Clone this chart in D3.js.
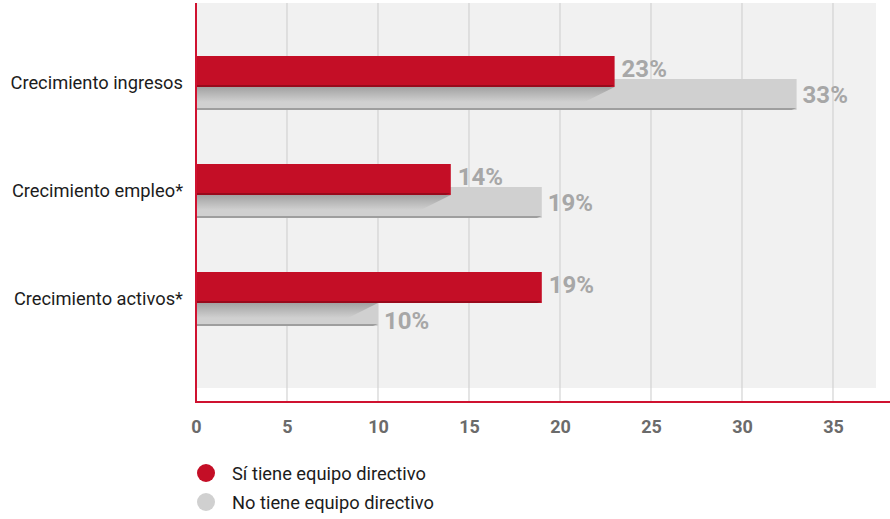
<!DOCTYPE html>
<html>
<head>
<meta charset="utf-8">
<script src="https://cdn.jsdelivr.net/npm/d3@7"></script>
<style>
  html, body { margin: 0; padding: 0; background: #ffffff; }
  svg { display: block; font-family: Roboto, "Noto Sans", sans-serif; }
</style>
</head>
<body>
<svg id="chart" width="890" height="519"></svg>
<script>
// Growth metrics, companies with and without a management team (%)
const categories = ["Crecimiento ingresos", "Crecimiento empleo*", "Crecimiento activos*"];
const conEquipo = [23, 14, 19];
const sinEquipo = [33, 19, 10];
const xTicks = [0, 5, 10, 15, 20, 25, 30, 35];
const seriesNames = ["Sí tiene equipo directivo", "No tiene equipo directivo"];

const RED = "#c40e26", RED_DARK = "#980a1c";
const GREY = "#d0d0d0", GREY_DARK = "#9e9e9e";
const LABEL = "#a7a7a7";

const svg = d3.select("#chart");
const plot = { left: 196, top: 3, bgRight: 876, bgBottom: 388, axisY: 402 };

const x = d3.scaleLinear().domain([0, 35]).range([196, 833]);
const y = d3.scaleBand().domain(categories).range([29, 353]).padding(0);

const barH = 31;           // height of each bar
const greyOffset = 23;     // grey bar starts this far below the red one

// gradient for the shadow that the red bar casts on the grey one
const defs = svg.append("defs");
const g1 = defs.append("linearGradient").attr("id", "shade")
  .attr("x1", 0).attr("y1", 0).attr("x2", 0).attr("y2", 1);
g1.append("stop").attr("offset", "0%").attr("stop-color", "#a2a2a2");
g1.append("stop").attr("offset", "100%").attr("stop-color", GREY);

// plot background
svg.append("rect")
  .attr("x", plot.left).attr("y", plot.top)
  .attr("width", plot.bgRight - plot.left).attr("height", plot.bgBottom - plot.top)
  .attr("fill", "#f1f1f1");

// vertical grid lines
svg.append("g").selectAll("line")
  .data(xTicks.filter(d => d > 0))
  .join("line")
  .attr("x1", d => x(d)).attr("x2", d => x(d))
  .attr("y1", plot.top).attr("y2", plot.axisY)
  .attr("stroke", "#d3d3d3").attr("stroke-width", 1.2);

const rows = categories.map((c, i) => ({ cat: c, a: conEquipo[i], b: sinEquipo[i], i }));

const groups = svg.append("g").selectAll("g")
  .data(rows).join("g");

groups.each(function (d) {
  const g = d3.select(this);
  const mid = y(d.cat) + y.bandwidth() / 2;
  const redTop = mid - 27;
  const redBot = redTop + barH;
  const greyTop = redTop + greyOffset;
  const greyBot = greyTop + barH;
  const x0 = x(0), xa = x(d.a), xb = x(d.b);

  // grey bar body
  g.append("rect")
    .attr("x", x0).attr("y", greyTop)
    .attr("width", xb - x0).attr("height", barH)
    .attr("fill", GREY);
  // grey bar bottom edge
  g.append("polygon")
    .attr("points", [[x0, greyBot - 2], [xb, greyBot - 2], [xb - 5, greyBot], [x0, greyBot]].join(" "))
    .attr("fill", GREY_DARK);

  // shadow of the red bar on the grey bar
  const sEnd = Math.min(xa, xb);
  const sH = 15;
  g.append("polygon")
    .attr("points", [[x0, redBot], [sEnd, redBot], [sEnd - 30, redBot + sH], [x0, redBot + sH]].join(" "))
    .attr("fill", "url(#shade)");

  // red bar body
  g.append("rect")
    .attr("x", x0).attr("y", redTop)
    .attr("width", xa - x0).attr("height", barH)
    .attr("fill", RED);
  // red bar bottom edge
  g.append("polygon")
    .attr("points", [[x0, redBot - 2], [xa, redBot - 2], [xa - 5, redBot], [x0, redBot]].join(" "))
    .attr("fill", RED_DARK);

  // value labels
  g.append("text")
    .attr("x", xa + 7).attr("y", redTop + 21)
    .attr("fill", LABEL).attr("font-size", 24).attr("font-weight", 700)
    .text(d.a + "%");
  // grey label sits beside its bar, or below it when the red bar is longer
  const greyLabelY = d.b >= d.a ? greyTop + 24 : greyBot + 3;
  g.append("text")
    .attr("x", xb + 6).attr("y", greyLabelY)
    .attr("fill", LABEL).attr("font-size", 24).attr("font-weight", 700)
    .text(d.b + "%");
});

// category axis
const yAxis = svg.append("g")
  .attr("transform", `translate(${plot.left},0)`)
  .call(d3.axisLeft(y).tickSize(0).tickPadding(13));
yAxis.select(".domain").remove();
yAxis.selectAll("text")
  .attr("font-family", "Roboto, sans-serif")
  .attr("font-size", 18.3).attr("fill", "#1c1c1c");

// value axis
const xAxis = svg.append("g")
  .attr("transform", `translate(0,${plot.axisY})`)
  .call(d3.axisBottom(x).tickValues(xTicks).tickSize(0).tickPadding(18));
xAxis.select(".domain").remove();
xAxis.selectAll("text")
  .attr("font-family", "Roboto, sans-serif")
  .attr("font-size", 18).attr("font-weight", 700).attr("fill", "#6b6b6b");

// red axis lines
svg.append("line")
  .attr("x1", plot.left).attr("x2", plot.left)
  .attr("y1", plot.top).attr("y2", plot.axisY + 1)
  .attr("stroke", "#cf1230").attr("stroke-width", 2);
svg.append("line")
  .attr("x1", plot.left - 1).attr("x2", 890)
  .attr("y1", plot.axisY).attr("y2", plot.axisY)
  .attr("stroke", "#cf1230").attr("stroke-width", 2);

// legend
const legend = svg.append("g").selectAll("g")
  .data(seriesNames).join("g")
  .attr("transform", (d, i) => `translate(206,${473 + i * 29})`);
legend.append("circle").attr("r", 9)
  .attr("fill", (d, i) => i === 0 ? RED : GREY);
legend.append("text")
  .attr("x", 26).attr("y", 7)
  .attr("font-size", 18.3).attr("fill", "#1c1c1c")
  .text(d => d);
</script>
</body>
</html>
